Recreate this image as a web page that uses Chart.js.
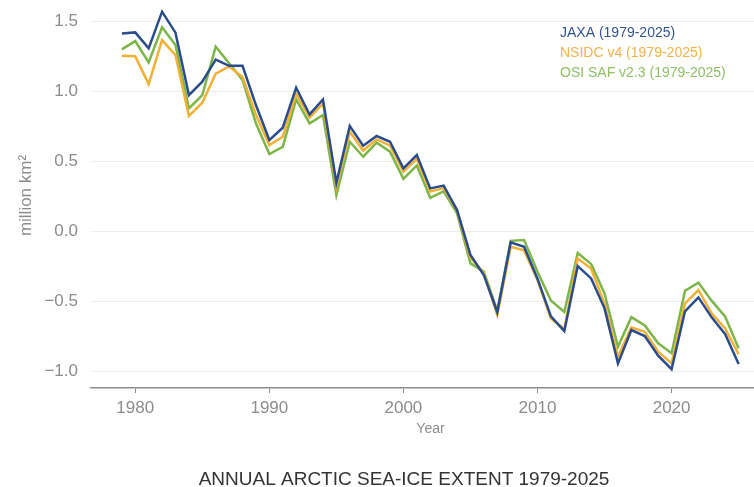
<!DOCTYPE html>
<html>
<head>
<meta charset="utf-8">
<title>Annual Arctic sea-ice extent 1979-2025</title>
<script src="https://cdn.jsdelivr.net/npm/chart.js@4.4.1/dist/chart.umd.min.js"></script>
<style>
  html, body { margin: 0; padding: 0; background: #ffffff; overflow: hidden; }
  #wrap { position: relative; width: 770px; height: 487px; }
</style>
</head>
<body>
<div id="wrap"><canvas id="chart" width="770" height="487"></canvas></div>
<script>
// Annual Arctic sea-ice extent anomalies (million km²), three records
const years = [
  1979, 1980, 1981, 1982, 1983, 1984, 1985, 1986, 1987, 1988,
  1989, 1990, 1991, 1992, 1993, 1994, 1995, 1996, 1997, 1998,
  1999, 2000, 2001, 2002, 2003, 2004, 2005, 2006, 2007, 2008,
  2009, 2010, 2011, 2012, 2013, 2014, 2015, 2016, 2017, 2018,
  2019, 2020, 2021, 2022, 2023, 2024, 2025
];

const jaxa = [
  1.412, 1.419, 1.305, 1.567, 1.417, 0.971, 1.067, 1.224, 1.180, 1.180,
  0.900, 0.650, 0.738, 1.024, 0.833, 0.940, 0.345, 0.750, 0.609, 0.679,
  0.638, 0.448, 0.543, 0.305, 0.325, 0.150, -0.171, -0.314, -0.580, -0.081,
  -0.112, -0.340, -0.610, -0.715, -0.250, -0.338, -0.552, -0.945, -0.707, -0.750,
  -0.890, -0.987, -0.573, -0.474, -0.618, -0.737, -0.950
];

const nsidc = [
  1.252, 1.248, 1.050, 1.364, 1.257, 0.821, 0.917, 1.124, 1.176, 1.100,
  0.830, 0.614, 0.674, 0.980, 0.810, 0.910, 0.317, 0.710, 0.575, 0.655,
  0.610, 0.424, 0.515, 0.283, 0.307, 0.145, -0.190, -0.300, -0.600, -0.112,
  -0.138, -0.350, -0.625, -0.700, -0.195, -0.267, -0.520, -0.898, -0.688, -0.720,
  -0.862, -0.945, -0.517, -0.421, -0.590, -0.695, -0.880
];

const osisaf = [
  1.298, 1.357, 1.205, 1.455, 1.329, 0.876, 0.971, 1.317, 1.198, 1.079,
  0.770, 0.550, 0.602, 0.940, 0.769, 0.829, 0.257, 0.638, 0.531, 0.631,
  0.567, 0.373, 0.469, 0.237, 0.283, 0.126, -0.231, -0.290, -0.570, -0.070,
  -0.064, -0.290, -0.496, -0.578, -0.157, -0.235, -0.445, -0.826, -0.615, -0.675,
  -0.802, -0.872, -0.426, -0.368, -0.499, -0.612, -0.838
];

const yearTicks = [1980, 1990, 2000, 2010, 2020];
const valueTicks = [-1.0, -0.5, 0.0, 0.5, 1.0, 1.5];

const seriesLabels = ['JAXA (1979-2025)', 'NSIDC v4 (1979-2025)', 'OSI SAF v2.3 (1979-2025)'];
const chartTitle = 'ANNUAL ARCTIC SEA-ICE EXTENT 1979-2025';

const FONT = '"Liberation Sans", Arial, Helvetica, sans-serif';
const lineColors = ['#2b4c8c', '#f1b135', '#7cb548'];
const legendColors = ['#34548f', '#f2b24c', '#8fc066'];
const axisGrey = '#8c8c8c';

function toPoints(values) {
  return years.map((yr, i) => ({ x: yr, y: values[i] }));
}

// Text-only legend in the top-right of the plot and the caption underneath
const overlayText = {
  id: 'overlayText',
  afterDraw(chart) {
    const ctx = chart.ctx;
    ctx.save();
    ctx.textAlign = 'left';
    ctx.textBaseline = 'alphabetic';
    ctx.font = '14px ' + FONT;
    chart.data.datasets.forEach((ds, i) => {
      ctx.fillStyle = legendColors[i];
      ctx.fillText(ds.label, 560, 36.5 + i * 20);
    });
    ctx.fillStyle = '#333333';
    ctx.textAlign = 'center';
    ctx.font = '19px ' + FONT;
    ctx.fillText(chartTitle, 404, 485);
    ctx.restore();
  }
};

const series = [jaxa, nsidc, osisaf];

new Chart(document.getElementById('chart'), {
  type: 'line',
  data: {
    datasets: series.map((vals, i) => ({
      label: seriesLabels[i],
      data: toPoints(vals),
      borderColor: lineColors[i],
      backgroundColor: lineColors[i],
      borderWidth: 2.5,
      pointRadius: 0,
      tension: 0,
      fill: false
    }))
  },
  options: {
    responsive: false,
    animation: false,
    devicePixelRatio: 1,
    layout: { padding: { top: 3, left: 0, right: 0, bottom: 49 } },
    plugins: {
      legend: { display: false },
      title: { display: false },
      tooltip: { enabled: false }
    },
    scales: {
      x: {
        type: 'linear',
        min: 1976.7,
        max: 2027.34,
        afterBuildTicks: (s) => { s.ticks = yearTicks.map(v => ({ value: v })); },
        afterFit: (s) => { s.height = 50; s.paddingLeft = 0; s.paddingRight = 0; },
        ticks: {
          color: axisGrey,
          font: { family: FONT, size: 17 },
          padding: 5,
          maxRotation: 0,
          autoSkip: false,
          callback: (v) => String(v)
        },
        grid: {
          drawOnChartArea: false,
          drawTicks: true,
          tickLength: 5,
          color: axisGrey,
          lineWidth: 1
        },
        border: { display: true, color: axisGrey, width: 1.5 },
        title: {
          display: true,
          text: 'Year',
          color: axisGrey,
          font: { family: FONT, size: 14 },
          padding: 0
        }
      },
      y: {
        type: 'linear',
        min: -1.121,
        max: 1.629,
        afterBuildTicks: (s) => { s.ticks = valueTicks.map(v => ({ value: v })); },
        afterFit: (s) => { s.width = 91; s.paddingTop = 0; s.paddingBottom = 0; },
        ticks: {
          color: axisGrey,
          font: { family: FONT, size: 17 },
          padding: 13,
          callback: (v) => (v < 0 ? '\u2212' : '') + Math.abs(v).toFixed(1)
        },
        grid: {
          color: '#ececec',
          lineWidth: 1,
          drawTicks: false
        },
        border: { display: false },
        title: {
          display: true,
          text: 'million km²',
          color: axisGrey,
          font: { family: FONT, size: 17 },
          padding: { top: 16, bottom: 0 }
        }
      }
    }
  },
  plugins: [overlayText]
});
</script>
</body>
</html>
